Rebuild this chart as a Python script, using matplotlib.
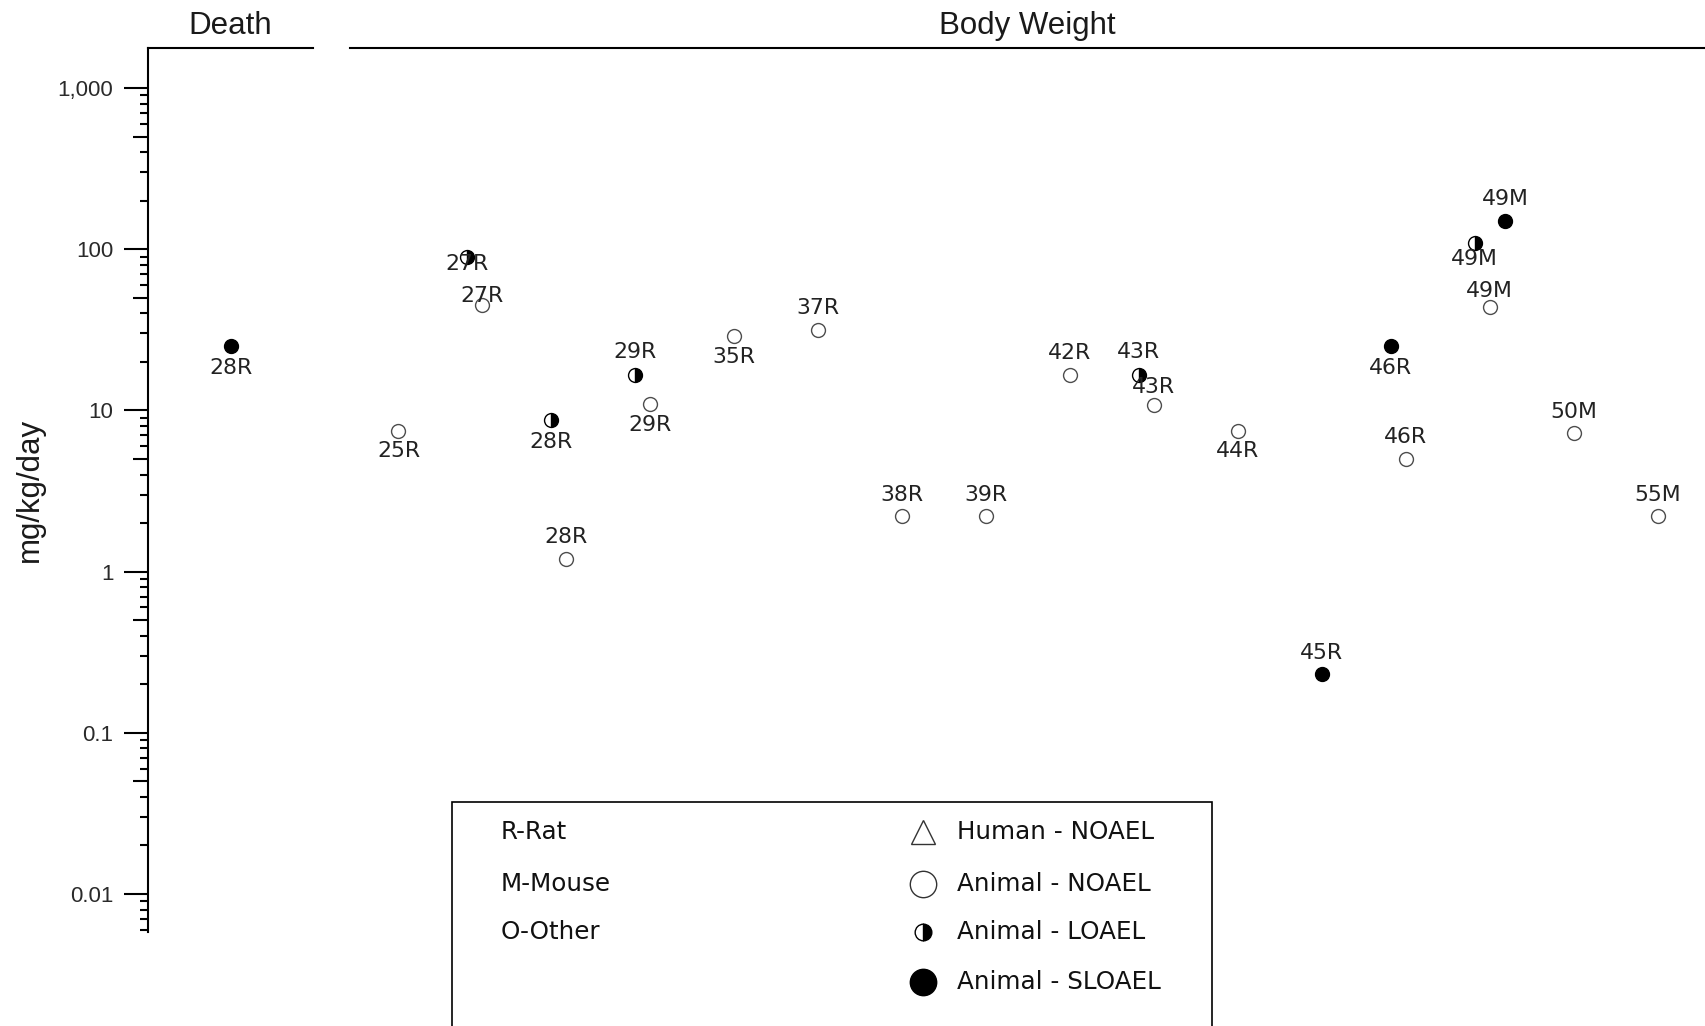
import matplotlib
matplotlib.use('Agg')
import matplotlib.pyplot as plt
from matplotlib.patches import Rectangle
from matplotlib.lines import Line2D
from matplotlib.ticker import FixedLocator, FixedFormatter, NullLocator
from matplotlib.transforms import blended_transform_factory, offset_copy

# --------------- 数据 --------------- #
endpoints = ['Death', 'Body Weight']
endpoint_of = ['Death'] + ['Body Weight'] * 23
study_col = [0, 0, 1, 1, 2, 2, 3, 3, 4, 5, 6, 7, 8, 9, 9, 10, 11, 12, 12, 13, 13, 13, 14, 15]
point_labels = ['28R', '25R', '27R', '27R', '28R', '28R', '29R', '29R', '35R', '37R',
                '38R', '39R', '42R', '43R', '43R', '44R', '45R', '46R', '46R',
                '49M', '49M', '49M', '50M', '55M']
doses = [25, 7.5, 90, 45, 8.7, 1.2, 16.7, 11, 29, 31.6,
         2.2, 2.2, 16.7, 16.7, 10.8, 7.5, 0.23, 25, 5,
         110, 44, 150, 7.2, 2.2]
effects = ['SLOAEL', 'NOAEL', 'LOAEL', 'NOAEL', 'LOAEL', 'NOAEL', 'LOAEL', 'NOAEL', 'NOAEL', 'NOAEL',
           'NOAEL', 'NOAEL', 'NOAEL', 'LOAEL', 'NOAEL', 'NOAEL', 'SLOAEL', 'SLOAEL', 'NOAEL',
           'LOAEL', 'NOAEL', 'SLOAEL', 'NOAEL', 'NOAEL']

ytick_vals = [0.01, 0.1, 1, 10, 100, 1000]
ytick_labels = ['0.01', '0.1', '1', '10', '100', '1,000']

species_keys = ['R-Rat', 'M-Mouse', 'O-Other']
effect_keys = ['Human - NOAEL', 'Animal - NOAEL', 'Animal - LOAEL', 'Animal - SLOAEL']

# --------------- 版式 --------------- #
group_start = {'Death': 0, 'Body Weight': 2}
group_span = {'Death': (-0.984, 0.983), 'Body Weight': (1.423, 17.565)}
# 标签上下偏移(pt)
label_dy = [-15.5, -15, -5.5, 6.3, -15.5, 15.5, 16, -15.5, -15, 15.5,
            15.5, 15.5, 15.5, 16, 13.3, -15, 15.5, -15.5, 15.5,
            -11.7, 11, 15.5, 15.5, 15.5]
step = 0.181

styles = {
    'NOAEL': dict(marker='o', mfc='white', mec='#4d4d4d', mew=1.0),
    'LOAEL': dict(marker='o', fillstyle='right', mfc='black', mfcalt='white', mec='black', mew=1.0),
    'SLOAEL': dict(marker='o', mfc='black', mec='black', mew=1.0),
}

W, H = 1705, 1026
fig = plt.figure(figsize=(W / 100, H / 100), dpi=100)
ax_pos = [148 / W, 94 / H, 1557 / W, 884 / H]
ax2 = fig.add_axes(ax_pos, frameon=False)
ax = fig.add_axes(ax_pos)
ax.patch.set_alpha(0)

ylim = (0.00581, 1771)
ax.set_yscale('log')
ax.set_ylim(*ylim)
ax.set_xlim(-0.984, 17.565)
ax.set_xticks([])
for s in ['top', 'right', 'bottom']:
    ax.spines[s].set_visible(False)
ax.spines['left'].set_linewidth(1.5)

ax.yaxis.set_major_locator(FixedLocator(ytick_vals))
ax.yaxis.set_major_formatter(FixedFormatter(ytick_labels))
minors = [m * 10.0 ** k for k in range(-3, 4) for m in (2, 3, 4, 6, 7, 8, 9)]
ax.yaxis.set_minor_locator(FixedLocator(minors))
ax.tick_params(axis='y', which='major', length=17, width=1.5, pad=8, labelsize=16,
               labelcolor='#2a2a2a')
ax.tick_params(axis='y', which='minor', length=6, width=1.5)
for t in ax.get_yticklabels():
    t.set_family('Liberation Sans')

# 5x 中等刻度
ax2.set_yscale('log')
ax2.set_ylim(*ylim)
ax2.set_xticks([])
ax2.yaxis.set_major_locator(FixedLocator([5 * 10.0 ** k for k in range(-3, 4)]))
ax2.yaxis.set_minor_locator(NullLocator())
ax2.tick_params(axis='y', length=11, width=1.5, labelleft=False)

# 数据点
counts = {}
for ep, c in zip(endpoint_of, study_col):
    counts[(ep, c)] = counts.get((ep, c), 0) + 1
seen = {}
for i in range(len(doses)):
    key = (endpoint_of[i], study_col[i])
    n = counts[key]
    k = seen.get(key, 0)
    seen[key] = k + 1
    x = group_start[endpoint_of[i]] + study_col[i] + (k - n // 2) * step
    ax.plot([x], [doses[i]], ms=10, ls='none', zorder=3, **styles[effects[i]])
    tr = offset_copy(ax.transData, fig=fig, x=0, y=label_dy[i], units='points')
    ax.text(x, doses[i], point_labels[i], transform=tr, ha='center', va='center',
            fontsize=15.8, family='DejaVu Sans', color='#222222', zorder=4)

# 顶部分组线与标题
bt = blended_transform_factory(ax.transData, ax.transAxes)
for ep in endpoints:
    x0, x1 = group_span[ep]
    ax.plot([x0, x1], [1, 1], color='black', lw=1.5, transform=bt, clip_on=False)
    ax.text((x0 + x1) / 2 if ep != 'Death' else 0, 1.0164, ep, transform=bt, ha='center',
            va='baseline', fontsize=22.5, family='Liberation Sans', color='#1a1a1a')

fig.text(29.5 / W, 0.5224, 'mg/kg/day', rotation=90, ha='center', va='center',
         fontsize=22.5, family='Liberation Sans', color='#1a1a1a')

# 图例
rect = Rectangle((452 / W, -0.1), 760 / W, (H - 802.5) / H + 0.1, transform=fig.transFigure,
                 fill=False, ec='black', lw=1.2)
fig.add_artist(rect)
for name, y in zip(species_keys, [832, 884, 932]):
    fig.text(501 / W, 1 - y / H, name, ha='left', va='center', fontsize=17.7,
             family='DejaVu Sans', color='#111111')
leg_styles = [
    dict(marker='^', mfc='white', mec='#333333', mew=1.0, ms=17),
    dict(marker='o', mfc='white', mec='#333333', mew=1.0, ms=19),
    dict(marker='o', fillstyle='right', mfc='black', mfcalt='white', mec='black', mew=1.0, ms=12),
    dict(marker='o', mfc='black', mec='black', mew=1.0, ms=19),
]
for name, y, st in zip(effect_keys, [832, 884, 932, 982], leg_styles):
    fig.add_artist(Line2D([923 / W], [1 - y / H], transform=fig.transFigure, ls='none', **st))
    fig.text(957 / W, 1 - y / H, name, ha='left', va='center', fontsize=17.7,
             family='DejaVu Sans', color='#111111')

fig.savefig('out.png', dpi=100)
